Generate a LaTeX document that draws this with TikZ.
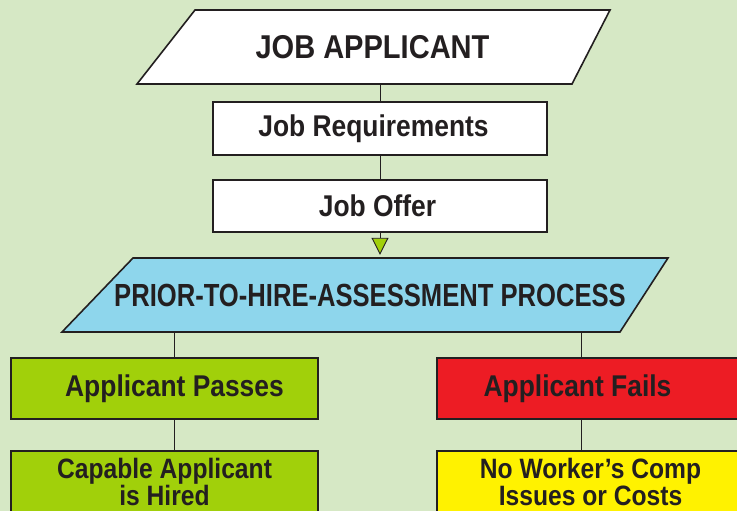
\documentclass[tikz,border=0pt]{standalone}
\usepackage{fontspec}
\newfontfamily\boxfont[FakeStretch=0.88]{Liberation Sans}
\newfontfamily\procfont[FakeStretch=0.80]{Liberation Sans}
\usetikzlibrary{arrows.meta,backgrounds}
\definecolor{pagegreen}{RGB}{214,232,197}
\definecolor{ink}{RGB}{35,31,32}
\definecolor{passgreen}{RGB}{161,208,10}
\definecolor{failred}{RGB}{237,28,36}
\definecolor{costyellow}{RGB}{255,242,0}
\definecolor{procblue}{RGB}{142,214,236}

\begin{document}
\begin{tikzpicture}[x=1pt, y=-1pt, text=ink,
    flowbox/.style={draw=ink, line width=1.6pt, inner sep=0pt, align=center},
    slantbox/.style={minimum width=200pt, inner sep=0pt},
    slant/.style={draw=ink, line width=1.6pt, line join=miter},
    wire/.style={draw=ink, line width=0.9pt}]
\useasboundingbox (0,0) rectangle (737,511);

\node (applicant) at (380,47) [slantbox, minimum height=75pt,
    font=\boxfont\bfseries\fontsize{33}{33}\selectfont]
    {\kern-15pt JOB APPLICANT};

\path (applicant)+(0,81.5) node (req) [flowbox, fill=white,
    minimum width=334pt, minimum height=53pt,
    font=\boxfont\bfseries\fontsize{30}{30}\selectfont]
    {\kern-13pt Job Requirements};

\path (req)+(0,77.5) node (offer) [flowbox, fill=white,
    minimum width=334pt, minimum height=52pt,
    font=\boxfont\bfseries\fontsize{30}{30}\selectfont]
    {\kern-5pt Job Offer};

\path (offer)+(-10,89) node (prior) [slantbox, minimum height=74pt,
    font=\procfont\bfseries\fontsize{32}{32}\selectfont]
    {PRIOR-TO-HIRE-ASSESSMENT PROCESS};

\path (prior)+(-205.5,93.5) node (pass) [flowbox, fill=passgreen,
    minimum width=307pt, minimum height=61pt,
    font=\boxfont\bfseries\fontsize{30}{30}\selectfont]
    {\kern20pt Applicant Passes};

\path (prior)+(220.5,93.5) node (fail) [flowbox, fill=failred,
    minimum width=307pt, minimum height=61pt,
    font=\boxfont\bfseries\fontsize{30}{30}\selectfont]
    {\kern-26pt Applicant Fails};

\path (pass)+(0,93.5) node (hired) [flowbox, fill=passgreen,
    minimum width=307pt, minimum height=62pt,
    font=\boxfont\bfseries\fontsize{28}{27}\selectfont]
    {Capable Applicant\\is Hired};

\path (fail)+(0,93.5) node (nocost) [flowbox, fill=costyellow,
    minimum width=307pt, minimum height=62pt,
    font=\boxfont\bfseries\fontsize{28}{27}\selectfont]
    {No Worker’s Comp\\Issues or Costs};

% page and the two slanted shapes, behind the text
\begin{scope}[on background layer]
\fill[pagegreen] (0,0) rectangle (737,511);
\path[slant, fill=white, shift={(applicant.center)}]
    (-185,-37) -- (230,-37) -- (192,37) -- (-243,37) -- cycle;
\path[slant, fill=procblue, shift={(prior.center)}]
    (-237,-37) -- (298,-37) -- (250,37) -- (-308,37) -- cycle;
\end{scope}

% connectors
\path (pass.north)+(10,0) coordinate (passtop);
\path (fail.north)+(-9,0) coordinate (failtop);
\draw[wire] (applicant) -- (req);
\draw[wire] (req) -- (offer);
\draw[wire, -{Triangle[width=17pt, length=17pt, fill=passgreen]},
    shorten >=3pt] (offer) -- (offer |- prior.north);
\draw[wire] (passtop |- prior.south) -- (passtop);
\draw[wire] (failtop |- prior.south) -- (failtop);
\draw[wire] (passtop |- pass.south) -- (passtop |- hired.north);
\draw[wire] (failtop |- fail.south) -- (failtop |- nocost.north);

\end{tikzpicture}
\end{document}
